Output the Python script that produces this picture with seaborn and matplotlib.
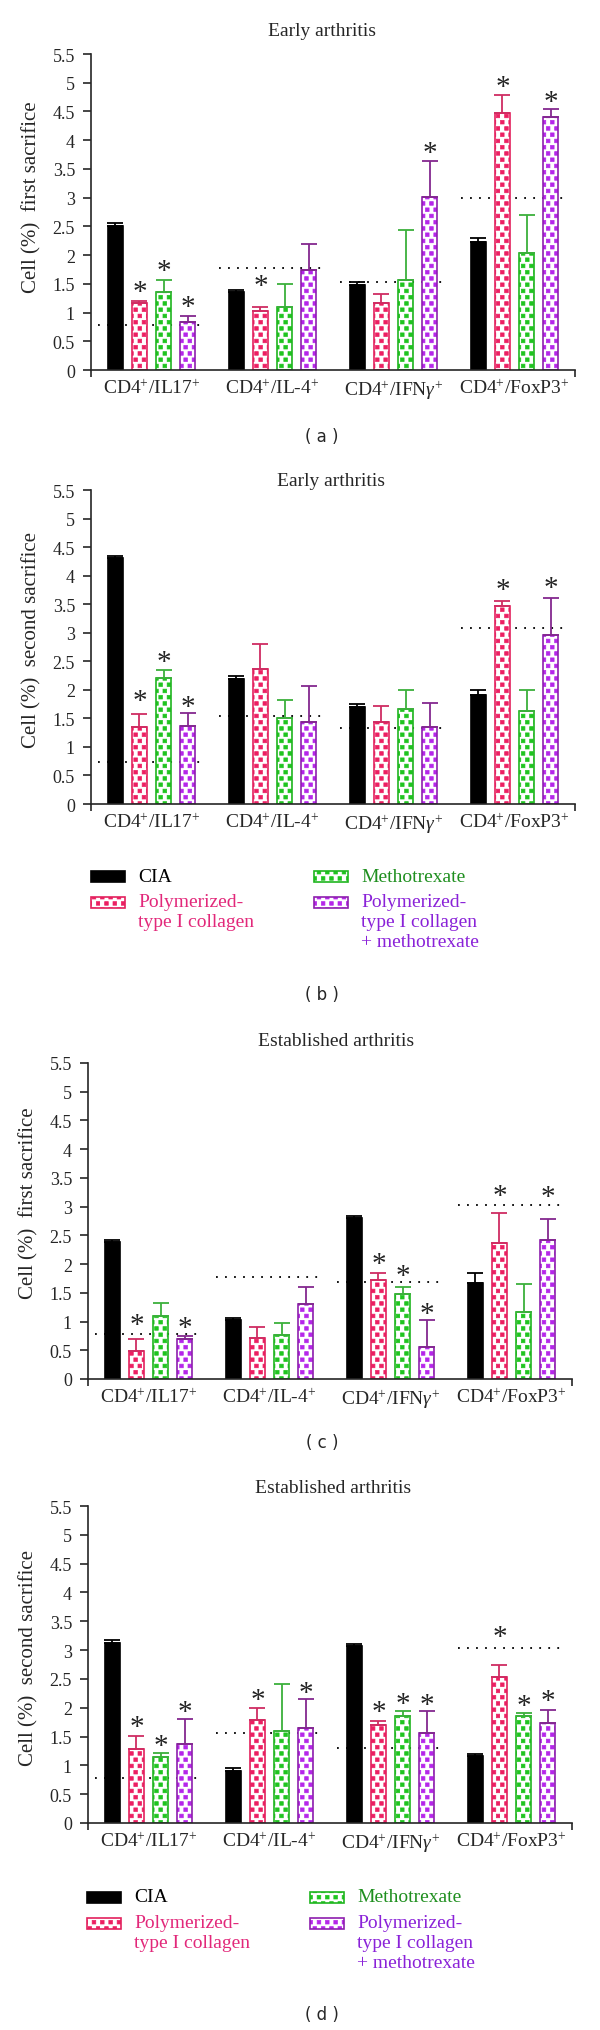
import numpy as np
import pandas as pd
import matplotlib
matplotlib.use('Agg')
import matplotlib.pyplot as plt
import matplotlib.hatch as mhatch
from matplotlib.path import Path
from matplotlib.patches import Rectangle
from matplotlib.colors import to_rgba
import seaborn as sns

# ---- data ----
markers = ['IL17', 'IL-4', 'IFNg', 'FoxP3']
tick_labels = [r'CD4$^{+}$/IL17$^{+}$', r'CD4$^{+}$/IL-4$^{+}$',
               r'CD4$^{+}$/IFN$\gamma^{+}$', r'CD4$^{+}$/FoxP3$^{+}$']
groups = ['CIA', 'Polymerized-type I collagen', 'Methotrexate',
          'Polymerized-type I collagen + methotrexate']
legend_labels = ['CIA', 'Polymerized-\ntype I collagen', 'Methotrexate',
                 'Polymerized-\ntype I collagen\n+ methotrexate']
nan = np.nan

# panel a: early arthritis, first sacrifice (rows: CIA, PTIC, MTX, PTIC+MTX)
a_mean = [[2.51, 1.36, 1.48, 2.23], [1.17, 1.03, 1.16, 4.47],
          [1.36, 1.09, 1.57, 2.03], [0.84, 1.74, 3.01, 4.41]]
a_top = [[2.55, 1.40, 1.53, 2.29], [1.20, 1.10, 1.33, 4.79],
         [1.56, 1.50, 2.44, 2.69], [0.94, 2.20, 3.64, 4.55]]
a_ref = [0.78, 1.77, 1.53, 3.00]
a_star = [[nan] * 4, [1.42, 1.53, nan, 4.98],
          [1.78, nan, nan, nan], [1.16, nan, 3.84, 4.73]]

# panel b: early arthritis, second sacrifice
b_mean = [[4.31, 2.19, 1.70, 1.91], [1.34, 2.36, 1.43, 3.46],
          [2.21, 1.50, 1.66, 1.63], [1.37, 1.44, 1.35, 2.96]]
b_top = [[4.35, 2.25, 1.75, 2.00], [1.57, 2.81, 1.72, 3.56],
         [2.35, 1.83, 2.00, 2.00], [1.59, 2.07, 1.77, 3.61]]
b_ref = [0.74, 1.55, 1.33, 3.09]
b_star = [[nan] * 4, [1.87, nan, nan, 3.81],
          [2.55, nan, nan, nan], [1.76, nan, nan, 3.85]]

# panel c: established arthritis, first sacrifice
c_mean = [[2.38, 1.03, 2.80, 1.67], [0.49, 0.72, 1.72, 2.36],
          [1.10, 0.76, 1.48, 1.16], [0.69, 1.30, 0.56, 2.42]]
c_top = [[2.42, 1.07, 2.84, 1.84], [0.70, 0.91, 1.84, 2.89],
         [1.32, 0.98, 1.60, 1.66], [0.74, 1.60, 1.02, 2.78]]
c_ref = [0.78, 1.77, 1.68, 3.02]
c_star = [[nan] * 4, [1.00, nan, 2.06, 3.25],
          [nan, nan, 1.85, nan], [0.94, nan, 1.19, 3.23]]

# panel d: established arthritis, second sacrifice
d_mean = [[3.13, 0.90, 3.07, 1.16], [1.28, 1.79, 1.70, 2.54],
          [1.15, 1.60, 1.85, 1.86], [1.37, 1.65, 1.57, 1.74]]
d_top = [[3.18, 0.95, 3.11, 1.20], [1.51, 1.99, 1.77, 2.74],
         [1.22, 2.41, 1.94, 1.91], [1.80, 2.15, 1.94, 1.96]]
d_ref = [0.78, 1.57, 1.30, 3.03]
d_star = [[nan] * 4, [1.73, 2.20, 1.98, 3.29],
          [1.39, nan, 2.12, 2.09], [1.98, 2.32, 2.10, 2.17]]

fill_colors = ['black', 'white', 'white', 'white']
edge_colors = ['black', '#e3215e', '#1fb51f', '#8e1fae']
dot_colors = ['black', '#ec1f62', '#1fc41f', '#b526ea']
err_colors = ['black', '#cf2c62', '#3cb03c', '#83288f']
text_colors = ['black', '#e2287a', '#1f8f1f', '#8a22d8']


# square-dot hatch (replaces the filled-circle '.' hatch)
class SquareDots(mhatch.HatchPatternBase):
    def __init__(self, hatch, density):
        k = hatch.count('.')
        self.n = k * 12      # squares per row in one tile
        self.m = k * 16      # rows in one tile
        self.num_vertices = self.n * self.m * 5

    def set_vertices_and_codes(self, vertices, codes):
        n, m = self.n, self.m
        s = 0.036
        sq = np.array([[0, 0], [s, 0], [s, s], [0, s], [0, 0]])
        sq_codes = [Path.MOVETO, Path.LINETO, Path.LINETO, Path.LINETO, Path.CLOSEPOLY]
        parts = []
        for k in range(m):
            for j in range(n):
                parts.append(sq + [j / n + (k % 2) / (2 * n) + 0.005, k / m + 0.01])
        vertices[:] = np.concatenate(parts)
        codes[:] = np.tile(sq_codes, n * m)


mhatch._hatch_types = [SquareDots if t is mhatch.SmallFilledCircles else t
                       for t in mhatch._hatch_types]

sns.set_style('ticks')
plt.rcParams['font.family'] = ['Liberation Serif', 'DejaVu Serif']
plt.rcParams['mathtext.fontset'] = 'custom'
plt.rcParams['mathtext.rm'] = 'Liberation Serif'
plt.rcParams['mathtext.it'] = 'Liberation Serif:italic'
plt.rcParams['hatch.linewidth'] = 0.5

W, H = 600, 2031
fig = plt.figure(figsize=(W / 100, H / 100), dpi=100)


def px_ax(left, top, bottom, right):
    return fig.add_axes([left / W, 1 - bottom / H, (right - left) / W, (bottom - top) / H])


def style_patch(p, i):
    p.set_facecolor(fill_colors[i])
    p.set_edgecolor(edge_colors[i])
    p.set_linewidth(1.2)
    if i > 0:
        p.set_hatch('.')
        p._hatch_color = to_rgba(dot_colors[i])


def draw_panel(ax, means, tops, ref, stars, ylabel, label_y):
    rows = []
    for g, vals in zip(groups, means):
        for m, v in zip(markers, vals):
            rows.append((m, g, v))
    df = pd.DataFrame(rows, columns=['marker', 'group', 'value'])
    sns.barplot(data=df, x='marker', y='value', hue='group', order=markers,
                hue_order=groups, palette=edge_colors, saturation=1,
                width=0.8, gap=0.37, errorbar=None, legend=False, ax=ax)

    bar_sets = list(ax.containers)
    for i, cont in enumerate(bar_sets):
        xs = []
        for bar in cont.patches:
            style_patch(bar, i)
            bar.set_zorder(2)
            xs.append(bar.get_x() + bar.get_width() / 2)
        xs = np.array(xs)
        m = np.array(means[i])
        t = np.array(tops[i])
        ax.errorbar(xs, m, yerr=[np.zeros(4), t - m], fmt='none',
                    ecolor=err_colors[i], elinewidth=1.3, capsize=5.5,
                    capthick=1.3, zorder=3)
        for x, s in zip(xs, stars[i]):
            if not np.isnan(s):
                ax.annotate('*', (x, s), xytext=(0, -7.5), textcoords='offset points',
                            ha='center', va='baseline', fontsize=21, color='#222222')

    centers = np.arange(4)
    ax.hlines(ref, centers - 0.44, centers + 0.44, colors='black',
              linestyles=(0, (1, 4)), linewidth=1.3, zorder=1)

    ax.set_xlim(-0.5, 3.5)
    ax.set_ylim(0, 5.5)
    yt = np.arange(0, 5.51, 0.5)
    ax.set_yticks(yt)
    ax.set_yticklabels(['{:g}'.format(v) for v in yt], fontsize=13)
    ax.set_xticks(centers)
    ax.set_xticklabels(tick_labels, fontsize=14)
    ax.set_xticks([-0.5, 3.5], minor=True)
    ax.tick_params(axis='x', which='major', length=0, pad=6)
    ax.tick_params(axis='x', which='minor', length=5, width=1.2)
    ax.tick_params(axis='y', length=5.5, width=1.2, pad=6)
    ax.set_xlabel('')
    ax.set_ylabel(ylabel, fontsize=15)
    ax.yaxis.set_label_coords(-0.102, label_y)
    for sp in ['top', 'right']:
        ax.spines[sp].set_visible(False)
    for sp in ['left', 'bottom']:
        ax.spines[sp].set_linewidth(1.2)


def draw_legend(left, top):
    cols = [left, left + 223]
    rows = [top, top + 26]
    for i, lab in enumerate(legend_labels):
        x0 = cols[i // 2]
        yc = rows[i % 2]
        rect = Rectangle((x0 / W, 1 - (yc + 5.5) / H), 34 / W, 11 / H,
                         transform=fig.transFigure)
        style_patch(rect, i)
        fig.add_artist(rect)
        fig.text((x0 + 47) / W, 1 - (yc - 8.5) / H, lab, color=text_colors[i],
                 fontsize=14, va='top', ha='left', linespacing=1.2)


def title(x, y, s):
    fig.text(x / W, 1 - y / H, s, ha='center', va='center', fontsize=14)


def plabel(y, s):
    fig.text(322 / W, 1 - y / H, s, ha='center', va='center', fontsize=12,
             family='DejaVu Sans')


ax_a = px_ax(91, 55, 371, 575)
draw_panel(ax_a, a_mean, a_top, a_ref, a_star, 'Cell (%)  first sacrifice', 0.55)
title(322, 31, 'Early arthritis')
plabel(437, '( a )')

ax_b = px_ax(91, 491, 805, 575)
draw_panel(ax_b, b_mean, b_top, b_ref, b_star, 'Cell (%)  second sacrifice', 0.525)
title(331, 482, 'Early arthritis')
draw_legend(91, 877)
plabel(995, '( b )')

ax_c = px_ax(88, 1064, 1380, 572)
draw_panel(ax_c, c_mean, c_top, c_ref, c_star, 'Cell (%)  first sacrifice', 0.56)
title(336, 1042, 'Established arthritis')
plabel(1443, '( c )')

ax_d = px_ax(88, 1507, 1824, 572)
draw_panel(ax_d, d_mean, d_top, d_ref, d_star, 'Cell (%)  second sacrifice', 0.525)
title(333, 1489, 'Established arthritis')
draw_legend(87, 1898)
plabel(2015, '( d )')

fig.savefig('out.png', dpi=100)
